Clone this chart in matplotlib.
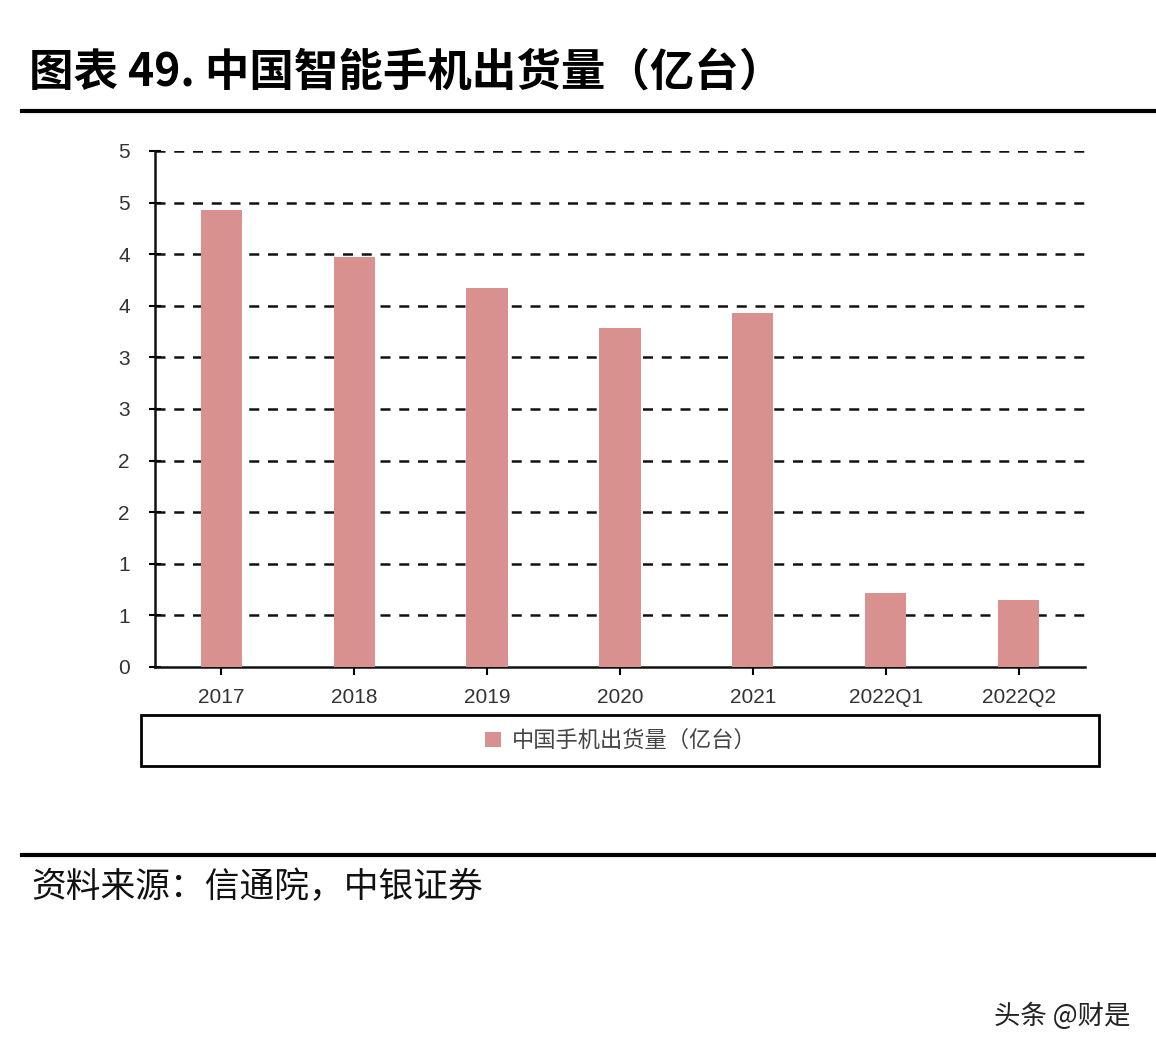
import matplotlib.pyplot as plt
from matplotlib.patches import Rectangle
from matplotlib.lines import Line2D

plt.rcParams['font.family'] = ['Liberation Sans', 'Noto Sans CJK SC', 'DejaVu Sans']

# data (亿台)
categories = ['2017', '2018', '2019', '2020', '2021', '2022Q1', '2022Q2']
shipments = [4.43, 3.97, 3.67, 3.28, 3.43, 0.72, 0.65]
y_ticks = [0, 0.5, 1.0, 1.5, 2.0, 2.5, 3.0, 3.5, 4.0, 4.5, 5.0]
y_labels = ['0', '1', '1', '2', '2', '3', '3', '4', '4', '5', '5']

title = '图表 49. 中国智能手机出货量（亿台）'
series_name = '中国手机出货量（亿台）'
source = '资料来源：信通院，中银证券'
watermark = '头条 @财是'

bar_color = '#d9918f'
cjk = ['Noto Sans CJK SC', 'DejaVu Sans']

fig = plt.figure(figsize=(11.56, 10.58), dpi=100)
ax = fig.add_axes([0.134, 0.3696, 0.8046, 0.4877])

x = range(len(categories))
bars = ax.bar(x, shipments, width=0.31, color=bar_color, zorder=3, label=series_name)

ax.set_xlim(-0.5, len(categories) - 0.5)
ax.set_ylim(0, 5.0)
ax.set_yticks(y_ticks)
ax.set_yticklabels(y_labels)
ax.set_xticks(list(x))
ax.set_xticklabels(categories)

# dashed grid
for t in y_ticks[1:]:
    ax.axhline(t, color='#111111', lw=1.8, ls=(0, (4, 3.5)), zorder=1)

for s in ['top', 'right']:
    ax.spines[s].set_visible(False)
for s in ['left', 'bottom']:
    ax.spines[s].set_linewidth(1.8)
    ax.spines[s].set_color('#111111')

ax.tick_params(axis='y', direction='inout', length=8, width=1.5, labelsize=15,
               labelcolor='#333333', pad=14)
ax.tick_params(axis='x', direction='out', length=6, width=1.5, labelsize=15,
               labelcolor='#333333', pad=9)

# title and rules
fig.text(0.025, 0.931, title, fontsize=32, fontweight='bold', family=cjk,
         va='center', ha='left')
fig.add_artist(Line2D([0.019, 1.0], [0.895, 0.895], color='black', lw=3,
                      transform=fig.transFigure))
fig.add_artist(Line2D([0.019, 1.0], [0.192, 0.192], color='black', lw=3,
                      transform=fig.transFigure))

# legend box
fig.add_artist(Rectangle((0.122, 0.276), 0.829, 0.048, fill=False,
                         edgecolor='black', lw=2, transform=fig.transFigure))
leg = fig.legend(handles=[bars], labels=[series_name], loc='center',
                 bbox_to_anchor=(0.537, 0.3), frameon=False,
                 prop={'family': cjk, 'size': 16}, handlelength=0.7,
                 handleheight=0.7, handletextpad=0.5, labelcolor='#444444')

fig.text(0.027, 0.161, source, fontsize=25, family=cjk, style='italic',
         va='center', ha='left', color='#111111')
fig.text(0.978, 0.039, watermark, fontsize=19, family=cjk,
         va='center', ha='right', color='#222222')

fig.savefig('out.png', dpi=100)
